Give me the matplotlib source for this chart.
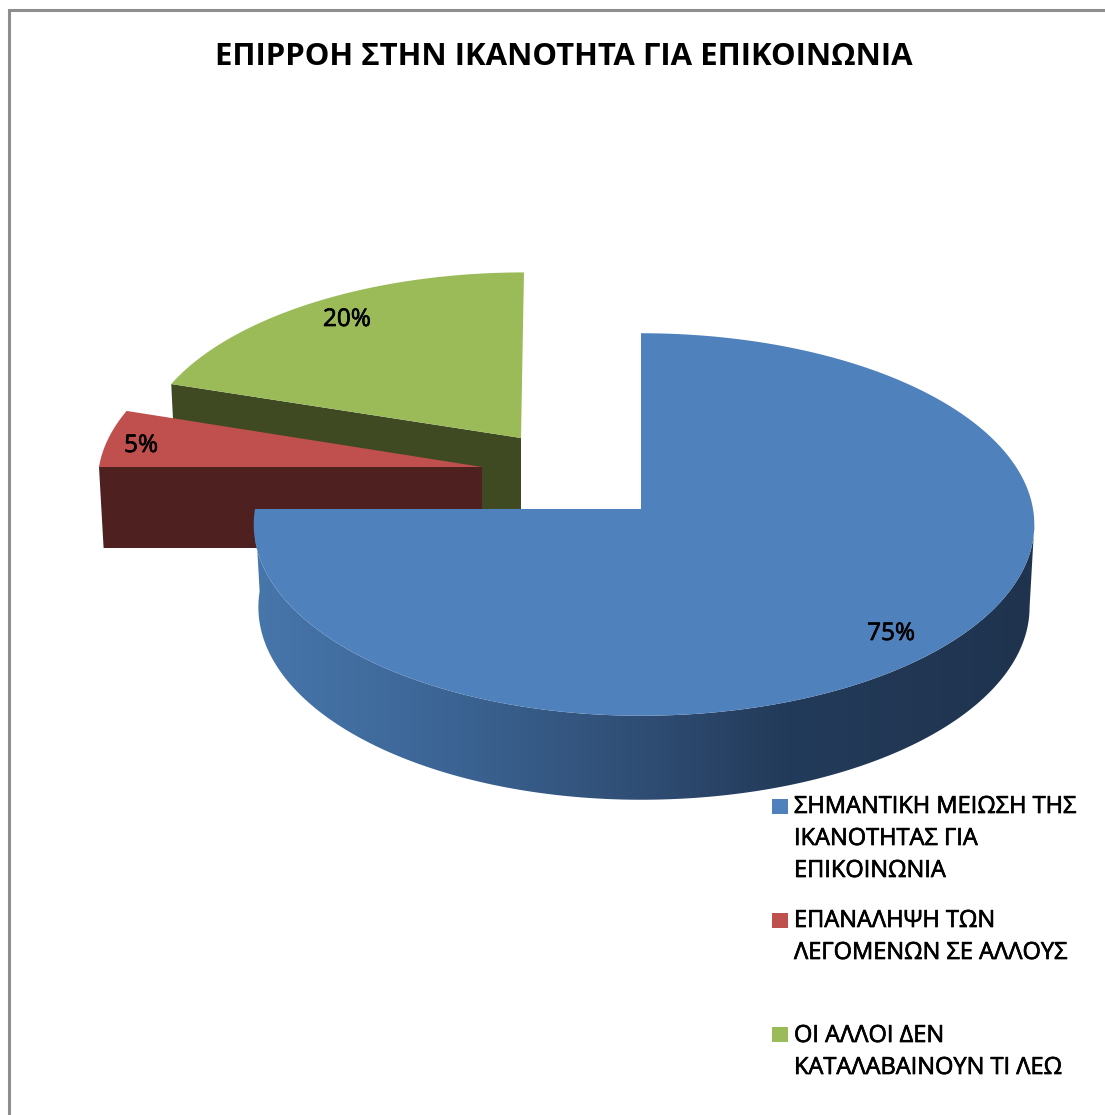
import numpy as np
import matplotlib
matplotlib.use("Agg")
import matplotlib.pyplot as plt
import matplotlib.patheffects as pe
from matplotlib.colors import LinearSegmentedColormap
from matplotlib.patches import Polygon, Rectangle

plt.rcParams['font.family'] = ['Open Sans', 'DejaVu Sans']

TITLE = "ΕΠΙΡΡΟΗ ΣΤΗΝ ΙΚΑΝΟΤΗΤΑ ΓΙΑ ΕΠΙΚΟΙΝΩΝΙΑ"
categories = [
    ["ΣΗΜΑΝΤΙΚΗ ΜΕΙΩΣΗ ΤΗΣ", "ΙΚΑΝΟΤΗΤΑΣ ΓΙΑ", "ΕΠΙΚΟΙΝΩΝΙΑ"],
    ["ΕΠΑΝΑΛΗΨΗ ΤΩΝ", "ΛΕΓΟΜΕΝΩΝ ΣΕ ΑΛΛΟΥΣ"],
    ["ΟΙ ΑΛΛΟΙ ΔΕΝ", "ΚΑΤΑΛΑΒΑΙΝΟΥΝ ΤΙ ΛΕΩ"],
]
values = [75, 5, 20]
top_colors = ["#4f81bd", "#c0504d", "#9bbb59"]
face_colors = [None, "#4e201f", "#3f4a22"]

W, H = 1105, 1115
PERSPECTIVE = 0.081

# Per-slice placement of the tilted disc: apex, radii, skew, thickness
slices = [
    dict(ax=641, ay=509, rl=386, rr=392, ry=190, skew=0.0, depth=84),
    dict(ax=482, ay=467, rl=383, rr=383, ry=186, skew=0.0, depth=81),
    dict(ax=521, ay=438, rl=378, rr=378, ry=179, skew=-0.018, depth=85),
]
label_pos = [(891, 634), (141, 446), (347, 320)]
legend_rows = [(806, [807, 839, 871]), (920, [921, 953]), (1034, [1036, 1068])]


def rim(g, theta, lower=False):
    """Project rim angles (clockwise from 12 o'clock) onto the image plane."""
    u, v = np.sin(theta), -np.cos(theta)
    s = 1 / (1 - PERSPECTIVE * v)
    r = np.where(u < 0, g["rl"], g["rr"])
    dx = r * u * s
    dy = g["ry"] * v * s
    shrink, drop = (0.988, g["depth"] - 1.5 * (1 - v)) if lower else (1.0, 0.0)
    x = g["ax"] + (dx + g["skew"] * dy) * shrink
    y = g["ay"] + dy + drop
    return x, y


def rim_poly(g, t0, t1, n=200, lower=False):
    return np.column_stack(rim(g, np.linspace(t0, t1, n), lower))


fractions = np.array(values, dtype=float) / sum(values)
edges = np.concatenate([[0.0], np.cumsum(fractions)]) * 2 * np.pi

fig = plt.figure(figsize=(W / 100, H / 100), dpi=100, facecolor="white")
ax = fig.add_axes([0, 0, 1, 1])
ax.set_xlim(0, W)
ax.set_ylim(H, 0)
ax.axis("off")

# Chart frame, open on the right and at the bottom
ax.plot([8.5, 8.5, W], [H, 10, 10], color="#8e8e8e", lw=2.2, solid_joinstyle="miter", zorder=1)

# Exploded slices go back to front: green, then red, then the large blue one
for i in (2, 1):
    g = slices[i]
    t0, t1 = edges[i], edges[i + 1]
    rx, ry = rim(g, np.array([t0]))
    bx, by = rim(g, np.array([t0]), lower=True)
    face = [(g["ax"], g["ay"]), (rx[0], ry[0]), (bx[0], g["depth"] + ry[0]), (g["ax"], g["ay"] + g["depth"])]
    ax.add_patch(Polygon(face, closed=True, fc=face_colors[i], ec="none", zorder=2 + (2 - i) * 2))
    top = np.vstack([[g["ax"], g["ay"]], rim_poly(g, t0, t1)])
    ax.add_patch(Polygon(top, closed=True, fc=top_colors[i], ec="none", zorder=3 + (2 - i) * 2))

# Blue rim wall with a left-to-right shading; each rim starts at its rightmost point
g = slices[0]
upper = rim_poly(g, np.radians(60), edges[1], n=800)
lower = rim_poly(g, np.radians(60), edges[1], n=800, lower=True)
upper = upper[np.argmax(upper[:, 0]):]
lower = lower[np.argmax(lower[:, 0]):]
wall_patch = Polygon(np.vstack([upper, lower[::-1]]), closed=True, fc="none", ec="none", zorder=7)
ax.add_patch(wall_patch)
shade = LinearSegmentedColormap.from_list(
    "wall",
    [(0.0, "#4776ab"), (0.24, "#3c6595"), (0.5, "#2f4d73"), (0.68, "#233b5a"), (1.0, "#1f334e")],
)
img = ax.imshow(np.linspace(0, 1, 512)[None, :], cmap=shade, aspect="auto",
                extent=(255, 1037, 810, 500), zorder=7)
img.set_clip_path(wall_patch)
ax.set_xlim(0, W)
ax.set_ylim(H, 0)

top = np.vstack([[g["ax"], g["ay"]], rim_poly(g, edges[0], edges[1], n=600)])
ax.add_patch(Polygon(top, closed=True, fc=top_colors[0], ec="none", zorder=8))

# Thin outline gives the regular-weight labels a little more body
body = [pe.withStroke(linewidth=0.5, foreground="black")]

# Value labels
for v, (x, y) in zip(values, label_pos):
    ax.text(x, y, f"{v}%", fontsize=17.5, color="black", ha="center", va="center",
            zorder=10, path_effects=body)

ax.text(564, 57, TITLE, fontsize=22.4, fontweight="bold", color="black", ha="center", va="center", zorder=10)

# Legend
for lines, color, (box_y, rows) in zip(categories, top_colors, legend_rows):
    ax.add_patch(Rectangle((772, box_y - 7.5), 15.5, 15.5, fc=color, ec="none", zorder=10))
    for line, y in zip(lines, rows):
        ax.text(794, y, line, fontsize=17.0, color="black", ha="left", va="center",
                zorder=10, path_effects=body)

fig.savefig("out.png", dpi=100, facecolor="white")
